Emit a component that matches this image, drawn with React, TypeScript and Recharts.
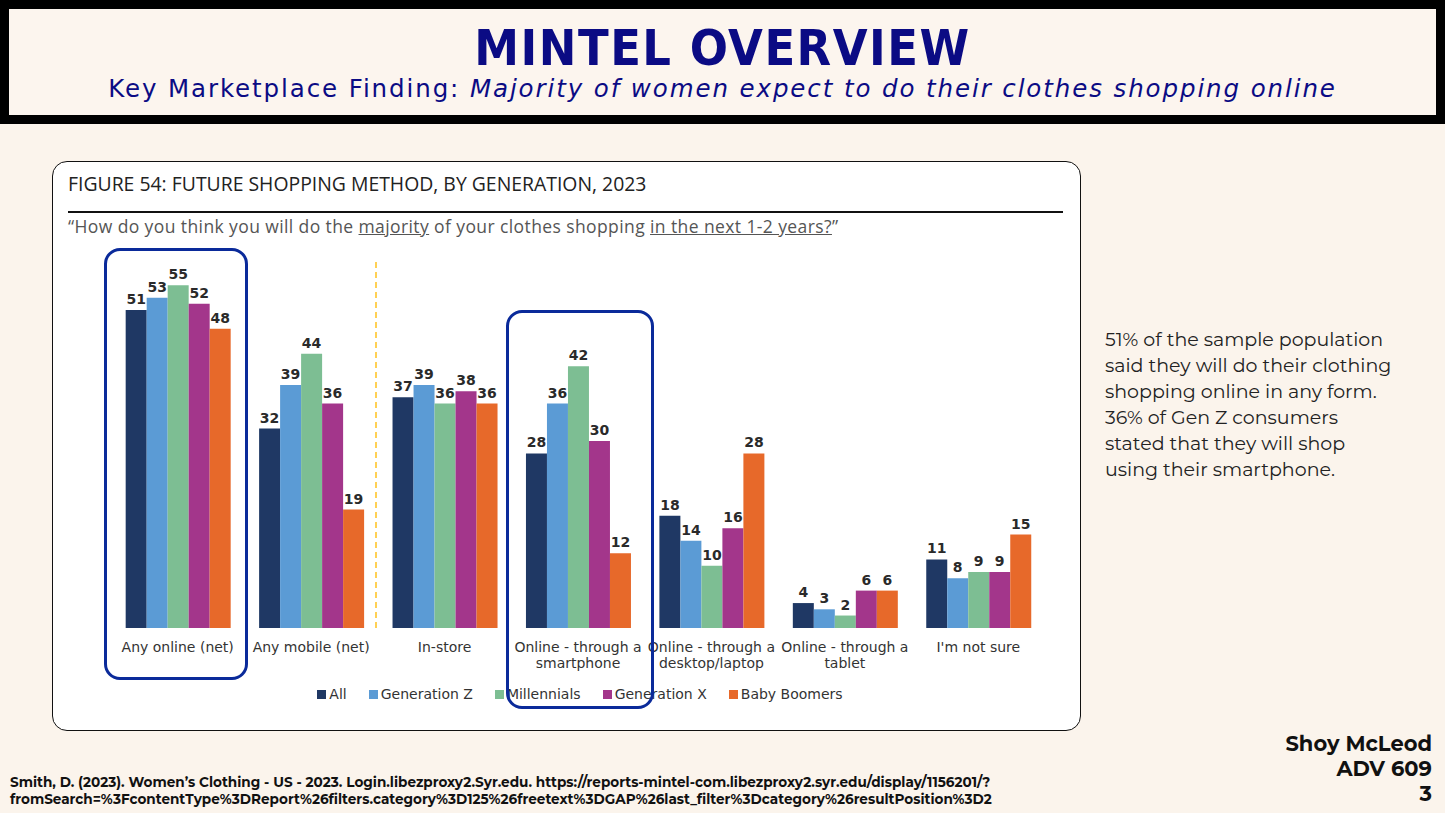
import React from "react";
import { BarChart, Bar, XAxis, YAxis, LabelList, Legend } from "recharts";

const categories = [
  "Any online (net)",
  "Any mobile (net)",
  "In-store",
  "Online - through a|smartphone",
  "Online - through a|desktop/laptop",
  "Online - through a|tablet",
  "I'm not sure",
];
const allValues = [51, 32, 37, 28, 18, 4, 11];
const genZValues = [53, 39, 39, 36, 14, 3, 8];
const millennialValues = [55, 44, 36, 42, 10, 2, 9];
const genXValues = [52, 36, 38, 30, 16, 6, 9];
const boomerValues = [48, 19, 36, 12, 28, 6, 15];

const seriesNames = ["All", "Generation Z", "Millennials", "Generation X", "Baby Boomers"];
const seriesKeys = ["all", "genZ", "millennials", "genX", "boomers"];
const seriesColors = ["#1F3864", "#5B9BD5", "#7DBE93", "#A3368B", "#E7692A"];

const data = categories.map((c, i) => ({
  category: c,
  all: allValues[i],
  genZ: genZValues[i],
  millennials: millennialValues[i],
  genX: genXValues[i],
  boomers: boomerValues[i],
}));

const chartFont = "Tahoma, 'DejaVu Sans', Verdana, sans-serif";
const slideFont = "Montserrat, 'Open Sans', Lato, sans-serif";

const CategoryTick = (props: any) => {
  const { x, y, payload } = props;
  const lines = String(payload.value).split("|");
  return (
    <text x={x} y={y} textAnchor="middle" fill="#333" fontSize={14} fontFamily={chartFont}>
      {lines.map((l: string, i: number) => (
        <tspan key={i} x={x} dy={16}>
          {l}
        </tspan>
      ))}
    </text>
  );
};

const LegendContent = () => (
  <div
    style={{
      display: "flex",
      justifyContent: "center",
      gap: 22,
      fontFamily: chartFont,
      fontSize: 14,
      color: "#333",
      paddingLeft: 4,
    }}
  >
    {seriesNames.map((n, i) => (
      <span key={n} style={{ display: "flex", alignItems: "center" }}>
        <span
          style={{
            display: "inline-block",
            width: 9,
            height: 9,
            background: seriesColors[i],
            marginRight: 3,
          }}
        />
        {n}
      </span>
    ))}
  </div>
);

export default function App() {
  return (
    <div
      style={{
        position: "absolute",
        left: 0,
        top: 0,
        width: 1445,
        height: 813,
        background: "#FBF4EC",
        overflow: "hidden",
      }}
    >
      {/* Header */}
      <div
        style={{
          position: "absolute",
          left: 0,
          top: 0,
          width: 1445,
          height: 124,
          background: "#000",
        }}
      />
      <div
        style={{
          position: "absolute",
          left: 9,
          top: 9,
          width: 1427,
          height: 106,
          background: "#FCF5EE",
        }}
      />
      <div
        style={{
          position: "absolute",
          left: 0,
          top: 22,
          width: 1445,
          textAlign: "center",
          fontFamily: "'Liberation Sans Narrow', 'DejaVu Sans Condensed', 'DejaVu Sans', sans-serif",
          fontWeight: 700,
          fontSize: 50,
          color: "#0B0B84",
          letterSpacing: 1.5,
          lineHeight: "52px",
        }}
      >
        MINTEL OVERVIEW
      </div>
      <div
        style={{
          position: "absolute",
          left: 0,
          top: 75,
          width: 1445,
          textAlign: "center",
          fontFamily: "'DejaVu Sans', sans-serif",
          fontSize: 24.5,
          letterSpacing: 1.9,
          color: "#0B0B84",
          lineHeight: "28px",
        }}
      >
        Key Marketplace Finding: <i>Majority of women expect to do their clothes shopping online</i>
      </div>

      {/* White figure box */}
      <div
        style={{
          position: "absolute",
          left: 52,
          top: 161,
          width: 1027,
          height: 568,
          background: "#fff",
          border: "1.5px solid #111",
          borderRadius: 15,
        }}
      />
      <div
        style={{
          position: "absolute",
          left: 68,
          top: 171,
          fontFamily: "'Open Sans', Lato, sans-serif",
          fontSize: 19.4,
          color: "#222",
          lineHeight: "26px",
        }}
      >
        FIGURE 54: FUTURE SHOPPING METHOD, BY GENERATION, 2023
      </div>
      <div
        style={{
          position: "absolute",
          left: 68,
          top: 211,
          width: 995,
          height: 2,
          background: "#111",
        }}
      />
      <div
        style={{
          position: "absolute",
          left: 68,
          top: 214,
          fontFamily: "'Open Sans', Lato, sans-serif",
          fontSize: 17.5,
          letterSpacing: 0.4,
          color: "#555",
          lineHeight: "24px",
        }}
      >
        “How do you think you will do the <u>majority</u> of your clothes shopping{" "}
        <u>in the next 1-2 years?</u>”
      </div>

      {/* Chart */}
      <div style={{ position: "absolute", left: 52, top: 240 }}>
        <BarChart
          width={1029}
          height={475}
          data={data}
          margin={{ top: 14, right: 36, bottom: 5, left: 59 }}
          barCategoryGap="11%"
          barGap={0}
        >
          <XAxis
            dataKey="category"
            axisLine={false}
            tickLine={false}
            interval={0}
            height={58}
            tick={<CategoryTick />}
          />
          <YAxis hide domain={[0, 60]} />
          <Legend verticalAlign="bottom" height={24} content={<LegendContent />} />
          {seriesKeys.map((k, i) => (
            <Bar key={k} dataKey={k} name={seriesNames[i]} fill={seriesColors[i]} isAnimationActive={false}>
              <LabelList
                dataKey={k}
                position="top"
                offset={6}
                fill="#2a2a2a"
                fontSize={14}
                fontWeight={600}
                fontFamily={chartFont}
              />
            </Bar>
          ))}
        </BarChart>
      </div>

      {/* Annotations */}
      <div
        style={{
          position: "absolute",
          left: 375,
          top: 262,
          width: 0,
          height: 366,
          borderLeft: "2px dashed #FFD154",
        }}
      />
      <div
        style={{
          position: "absolute",
          left: 104,
          top: 248,
          width: 138,
          height: 426,
          border: "3px solid #0A2A9A",
          borderRadius: 16,
        }}
      />
      <div
        style={{
          position: "absolute",
          left: 506,
          top: 310,
          width: 142,
          height: 393,
          border: "3px solid #0A2A9A",
          borderRadius: 16,
        }}
      />

      {/* Side text */}
      <div
        style={{
          position: "absolute",
          left: 1105,
          top: 327,
          width: 330,
          fontFamily: slideFont,
          fontSize: 19,
          color: "#222",
          lineHeight: "26px",
        }}
      >
        51% of the sample population
        <br />
        said they will do their clothing
        <br />
        shopping online in any form.
        <br />
        36% of Gen Z consumers
        <br />
        stated that they will shop
        <br />
        using their smartphone.
      </div>

      {/* Footer */}
      <div
        style={{
          position: "absolute",
          left: 10,
          top: 774,
          fontFamily: slideFont,
          fontWeight: 700,
          fontSize: 13.6,
          color: "#111",
          lineHeight: "17px",
          whiteSpace: "nowrap",
        }}
      >
        Smith, D. (2023). Women’s Clothing - US - 2023. Login.libezproxy2.Syr.edu. https://reports-mintel-com.libezproxy2.syr.edu/display/1156201/?
        <br />
        fromSearch=%3FcontentType%3DReport%26filters.category%3D125%26freetext%3DGAP%26last_filter%3Dcategory%26resultPosition%3D2
      </div>
      <div
        style={{
          position: "absolute",
          right: 13,
          top: 731,
          textAlign: "right",
          fontFamily: slideFont,
          fontWeight: 700,
          fontSize: 21,
          color: "#111",
          lineHeight: "25px",
        }}
      >
        Shoy McLeod
        <br />
        ADV 609
        <br />3
      </div>
    </div>
  );
}
